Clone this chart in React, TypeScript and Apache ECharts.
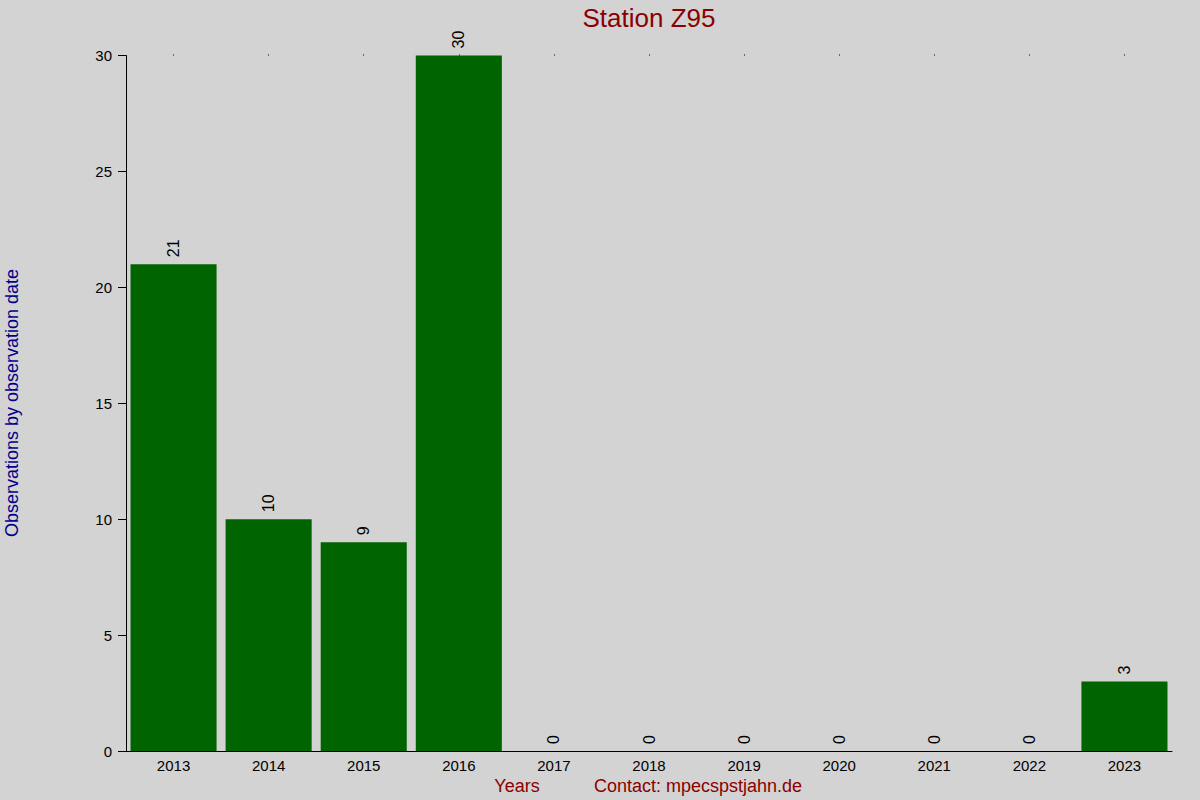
import React, { useEffect, useRef } from "react";
import * as echarts from "echarts";

const years = ["2013", "2014", "2015", "2016", "2017", "2018", "2019", "2020", "2021", "2022", "2023"];
const counts = [21, 10, 9, 30, 0, 0, 0, 0, 0, 0, 3];
const titleText = "Station Z95";
const yName = "Observations by observation date";
const xName = "Years";
const contact = "Contact: mpecspstjahn.de";

export default function App() {
  const ref = useRef<HTMLDivElement>(null);
  useEffect(() => {
    const chart = echarts.init(ref.current!, null, { renderer: "svg" });
    const font = "'Liberation Sans', Arial, sans-serif";
    chart.setOption({
      animation: false,
      backgroundColor: "#d3d3d3",
      textStyle: { fontFamily: font },
      grid: { left: 126, right: 28, top: 55.5, bottom: 49, containLabel: false },
      xAxis: [
        {
          type: "category",
          data: years,
          position: "bottom",
          axisLine: { show: true, lineStyle: { color: "#000", width: 1 } },
          axisTick: { show: false },
          axisLabel: { color: "#000", fontSize: 15, margin: 7, fontFamily: font },
          splitLine: { show: false },
        },
        {
          type: "category",
          data: years,
          position: "top",
          axisLine: { show: false },
          axisTick: { show: true, alignWithLabel: true, length: 1, lineStyle: { color: "#000", width: 1 } },
          axisLabel: { show: false },
          splitLine: { show: false },
        },
      ],
      yAxis: {
        type: "value",
        min: 0,
        max: 30,
        interval: 5,
        axisLine: { show: true, lineStyle: { color: "#000", width: 1 } },
        axisTick: { show: true, length: 8, lineStyle: { color: "#000" } },
        axisLabel: { color: "#000", fontSize: 15, margin: 14, fontFamily: font },
        splitLine: { show: false },
      },
      series: [
        {
          type: "bar",
          data: counts,
          xAxisIndex: 0,
          barCategoryGap: "9.5%",
          itemStyle: { color: "#006400" },
          label: {
            show: true,
            position: "top",
            rotate: 90,
            align: "left",
            verticalAlign: "middle",
            distance: 7,
            color: "#000",
            fontSize: 16,
            fontFamily: font,
          },
        },
      ],
      graphic: [
        {
          type: "text",
          x: 649,
          y: 18,
          style: { text: titleText, fill: "#8b0000", fontSize: 26, fontFamily: font, textAlign: "center", textVerticalAlign: "middle" },
        },
        {
          type: "text",
          x: 12,
          y: 403,
          rotation: Math.PI / 2,
          style: { text: yName, fill: "#00008b", fontSize: 18, fontFamily: font, textAlign: "center", textVerticalAlign: "middle" },
        },
        {
          type: "text",
          x: 517,
          y: 786,
          style: { text: xName, fill: "#8b0000", fontSize: 18, fontFamily: font, textAlign: "center", textVerticalAlign: "middle" },
        },
        {
          type: "text",
          x: 698,
          y: 786,
          style: { text: contact, fill: "#8b0000", fontSize: 18, fontFamily: font, textAlign: "center", textVerticalAlign: "middle" },
        },
      ],
    });
    return () => chart.dispose();
  }, []);
  return <div ref={ref} style={{ width: 1200, height: 800, position: "fixed", left: 0, top: 0 }} />;
}
